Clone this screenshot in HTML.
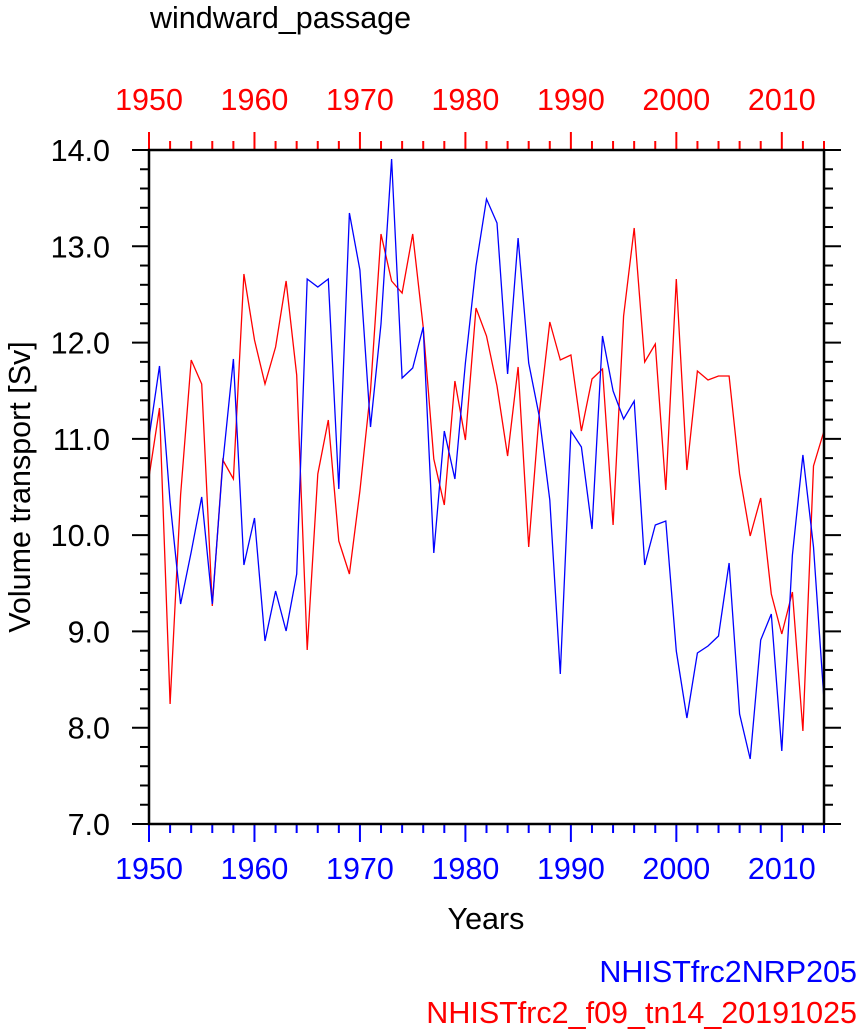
<!DOCTYPE html>
<html><head><meta charset="utf-8"><style>
html,body{margin:0;padding:0;background:#fff;}
svg{display:block;font-family:"Liberation Sans",sans-serif;}
</style></head><body>
<svg id="s" width="863" height="1036" viewBox="0 0 863 1036" xmlns="http://www.w3.org/2000/svg">
<rect width="863" height="1036" fill="#fff"/>
<text x="150" y="28" font-size="30.5" fill="#000">windward_passage</text>
<g id="ticks"></g>
<polyline id="red" fill="none" stroke="#ff0000" stroke-width="1.3"/>
<polyline id="blue" fill="none" stroke="#0000ff" stroke-width="1.3"/>
<rect x="149" y="150" width="675" height="674" fill="none" stroke="#000" stroke-width="2.5"/>
<text x="486" y="929" font-size="30.5" text-anchor="middle">Years</text>
<text transform="translate(30,487) rotate(-90)" font-size="30.5" text-anchor="middle">Volume transport [Sv]</text>
<text x="857" y="982" font-size="30.5" fill="#0000ff" text-anchor="end">NHISTfrc2NRP205</text>
<text x="857" y="1023" font-size="30.5" fill="#ff0000" text-anchor="end">NHISTfrc2_f09_tn14_20191025</text>
</svg>
<script>
var blue=[438,366,502,604,552,497,604,463,359,565,518,641,591,631,574,279,287,279,489,213,270,427,324,159,378,368,327,553,431,479,363,266,
199,223,374,238,363,416,500,674,431,447,529,336,391,419,401,565,525,521,651,718,653,646,636,563,714,759,640,614,751,555,455,547,700];
var red=[477,408,704,495,360,384,606,460,479,274,340,384,347,281,375,650,474,420,541,574,491,391,234,281,293,234,327,459,505,381,440,308,
336,386,456,367,547,414,322,360,355,431,379,369,525,316,228,362,344,490,279,470,371,380,376,376,474,536,498,594,634,592,731,466,431];
function X(i){return 149+i*675/64;}
function pts(a){return a.map(function(y,i){return X(i).toFixed(1)+","+y;}).join(" ");}
document.getElementById("blue").setAttribute("points",pts(blue));
document.getElementById("red").setAttribute("points",pts(red));
var g="";
for(var i=0;i<=64;i+=2){var x=X(i),maj=(i%10==0);
 g+='<line x1="'+x+'" y1="824" x2="'+x+'" y2="'+(maj?842:833)+'" stroke="#0000ff" stroke-width="2"/>';
 g+='<line x1="'+x+'" y1="150" x2="'+x+'" y2="'+(maj?132:141)+'" stroke="#ff0000" stroke-width="2"/>';
 if(maj){var yr=1950+i;
  g+='<text x="'+x+'" y="879" font-size="30.5" fill="#0000ff" text-anchor="middle">'+yr+'</text>';
  g+='<text x="'+x+'" y="110" font-size="30.5" fill="#ff0000" text-anchor="middle">'+yr+'</text>';}
}
for(var k=0;k<=35;k++){var y=824-k*674/35,maj=(k%5==0);
 g+='<line x1="149" y1="'+y+'" x2="'+(maj?132:140)+'" y2="'+y+'" stroke="#000" stroke-width="2"/>';
 g+='<line x1="824" y1="'+y+'" x2="'+(maj?841:833)+'" y2="'+y+'" stroke="#000" stroke-width="2"/>';
 if(maj){g+='<text x="110" y="'+(y+11)+'" font-size="30.5" text-anchor="end">'+(7+k/5).toFixed(1)+'</text>';}
}
document.getElementById("ticks").innerHTML=g;
</script>
</body></html>
